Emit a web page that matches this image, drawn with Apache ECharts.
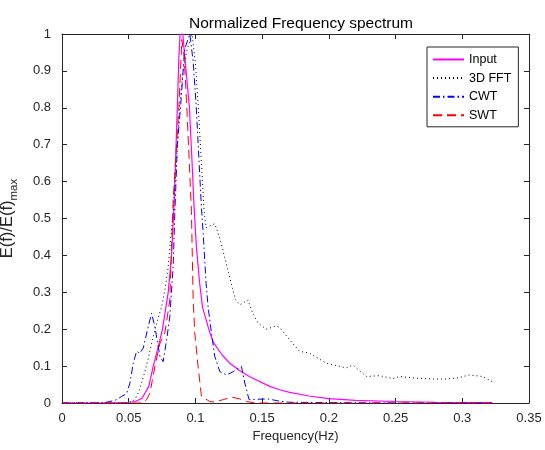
<!DOCTYPE html>
<html>
<head>
<meta charset="utf-8">
<script src="https://cdn.jsdelivr.net/npm/echarts@6/dist/echarts.min.js"></script>
<style>
html,body{margin:0;padding:0;background:#fff;}
#chart{width:545px;height:450px;}
</style>
</head>
<body>
<div id="chart"></div>
<script>
// [frequency (Hz), normalized energy]
const inputData = [
    [0,0],[0.03,0],[0.045,0.001],[0.05,0.002],[0.055,0.004],[0.06,0.013],[0.065,0.045],
    [0.0684,0.1],[0.072,0.15],[0.0753,0.2],[0.0796,0.3],[0.0821,0.4],[0.0838,0.52],
    [0.0855,0.7],[0.0866,0.82],[0.0875,0.93],[0.0885,1.0],[0.0905,1.0],[0.093,0.9],
    [0.0955,0.8],[0.0975,0.65],[0.099,0.53],[0.1008,0.42],[0.103,0.33],[0.1053,0.26],
    [0.11,0.2],[0.1133,0.165],[0.12,0.13],[0.1257,0.108],[0.133,0.088],[0.1407,0.071],
    [0.1557,0.045],[0.163,0.036],[0.1707,0.029],[0.185,0.019],[0.2,0.012],[0.22,0.007],
    [0.25,0.004],[0.28,0.002],[0.3,0.001],[0.3224,0.001]
];
const fftData = [
    [0,0],[0.05,0],[0.0546,0.009],[0.0571,0.027],[0.0596,0.054],[0.0621,0.085],[0.0646,0.12],
    [0.0671,0.162],[0.0696,0.198],[0.072,0.23],[0.0746,0.26],[0.0771,0.306],[0.0796,0.369],
    [0.0813,0.441],[0.0833,0.514],[0.0858,0.66],[0.088,0.8],[0.091,0.91],[0.094,0.96],
    [0.0975,1.0],[0.1,0.92],[0.102,0.81],[0.1045,0.65],[0.1065,0.52],[0.108,0.475],
    [0.111,0.48],[0.1145,0.486],[0.117,0.46],[0.1195,0.43],[0.1257,0.34],[0.13,0.28],
    [0.1332,0.266],[0.1394,0.279],[0.143,0.243],[0.147,0.216],[0.1532,0.2],[0.1607,0.209],
    [0.163,0.205],[0.1707,0.171],[0.178,0.14],[0.1856,0.135],[0.198,0.108],[0.213,0.095],
    [0.218,0.103],[0.228,0.072],[0.238,0.074],[0.248,0.066],[0.253,0.072],[0.263,0.068],
    [0.278,0.065],[0.288,0.065],[0.298,0.069],[0.305,0.076],[0.315,0.072],[0.3224,0.058]
];
const cwtData = [
    [0,0],[0.03,0],[0.0359,0.004],[0.041,0.009],[0.0447,0.018],[0.0484,0.025],[0.0509,0.054],
    [0.0534,0.108],[0.0559,0.14],[0.0584,0.135],[0.0609,0.149],[0.0646,0.207],[0.0671,0.243],
    [0.0696,0.207],[0.0734,0.126],[0.0758,0.112],[0.0784,0.171],[0.0808,0.234],[0.0833,0.369],
    [0.0846,0.52],[0.0865,0.7],[0.089,0.81],[0.092,0.96],[0.0958,1.0],[0.0983,0.925],
    [0.1005,0.81],[0.1045,0.53],[0.1058,0.46],[0.108,0.324],[0.1095,0.26],[0.112,0.19],
    [0.1145,0.126],[0.1183,0.085],[0.1233,0.076],[0.1283,0.085],[0.1345,0.099],[0.137,0.054],
    [0.1402,0.009],[0.1457,0.01],[0.1544,0.011],[0.163,0.005],[0.17,0.002],[0.2,0.001],
    [0.25,0],[0.3224,0]
];
const swtData = [
    [0,0],[0.06,0],[0.0634,0.009],[0.0659,0.027],[0.0696,0.099],[0.0734,0.162],[0.0771,0.19],
    [0.0796,0.25],[0.0808,0.28],[0.0833,0.55],[0.0876,0.8],[0.0898,0.985],[0.0915,0.94],
    [0.0933,0.82],[0.097,0.52],[0.0983,0.28],[0.0995,0.19],[0.102,0.099],[0.1045,0.018],
    [0.1108,0.004],[0.114,0.003],[0.1208,0.009],[0.127,0.016],[0.1332,0.011],[0.1382,0.004],
    [0.145,0],[0.3224,0]
];
const seriesNames = ['Input', '3D FFT', 'CWT', 'SWT'];

const axisColor = '#262626';
const font = 'Liberation Sans, Arial, sans-serif';

const myChart = echarts.init(document.getElementById('chart'));

function boxAxis(pos, min, max, interval){
    return {
        type:'value', position:pos, min:min, max:max, interval:interval,
        axisLine:{show:true, onZero:false, lineStyle:{color:axisColor, width:1}},
        axisTick:{show:true, inside:true, length:5, lineStyle:{color:axisColor}},
        axisLabel:{show:false},
        splitLine:{show:false}
    };
}

const option = {
    animation:false,
    backgroundColor:'#fff',
    title:{
        text:'Normalized Frequency spectrum',
        left:296,
        textAlign:'center',
        top:11,
        textStyle:{fontFamily:font, fontSize:15.5, fontWeight:'normal', color:'#000'}
    },
    legend:{
        orient:'vertical',
        left:427,
        top:47,
        data:seriesNames,
        itemWidth:31,
        itemHeight:12,
        itemGap:5.6,
        padding:[6,7,5,5],
        borderColor:axisColor,
        borderWidth:1,
        borderRadius:0,
        backgroundColor:'#fff',
        itemStyle:{opacity:0},
        textStyle:{fontFamily:font, fontSize:12.5, color:'#000'}
    },
    grid:{left:62, right:16, top:34, bottom:47, outerBoundsMode:'none', containLabel:false},
    xAxis:[
        {
            type:'value', min:0, max:0.35, interval:0.05,
            name:'Frequency(Hz)', nameLocation:'middle', nameGap:26,
            nameTextStyle:{fontFamily:font, fontSize:13, color:axisColor},
            axisLine:{show:true, onZero:false, lineStyle:{color:axisColor, width:1}},
            axisTick:{show:true, inside:true, length:5, lineStyle:{color:axisColor}},
            axisLabel:{fontFamily:font, fontSize:13, color:axisColor, margin:9},
            splitLine:{show:false}
        },
        boxAxis('top', 0, 0.35, 0.05)
    ],
    yAxis:[
        {
            type:'value', min:0, max:1, interval:0.1,
            name:'E(f)/E(f){sub|max}', nameLocation:'middle', nameGap:42,
            nameTextStyle:{
                fontFamily:font, fontSize:16.5, color:axisColor,
                rich:{sub:{fontFamily:font, fontSize:11.5, color:axisColor, verticalAlign:'bottom', lineHeight:25}}
            },
            axisLine:{show:true, onZero:false, lineStyle:{color:axisColor, width:1}},
            axisTick:{show:true, inside:true, length:5, lineStyle:{color:axisColor}},
            axisLabel:{fontFamily:font, fontSize:13, color:axisColor, margin:11},
            splitLine:{show:false}
        },
        boxAxis('right', 0, 1, 0.1)
    ],
    series:[
        {name:'Input', type:'line', data:inputData, symbol:'none', color:'#ff00ff',
         lineStyle:{color:'#ff00ff', width:1.2, type:'solid'}},
        {name:'3D FFT', type:'line', data:fftData, symbol:'none', color:'#000000',
         lineStyle:{color:'#000000', width:1, type:[1,3]}},
        {name:'CWT', type:'line', data:cwtData, symbol:'none', color:'#0000ff',
         lineStyle:{color:'#0000ff', width:1, type:[7,3,1.5,3]}},
        {name:'SWT', type:'line', data:swtData, symbol:'none', color:'#ff0000',
         lineStyle:{color:'#ff0000', width:1, type:[9,5]}}
    ]
};

myChart.setOption(option);
</script>
</body>
</html>
